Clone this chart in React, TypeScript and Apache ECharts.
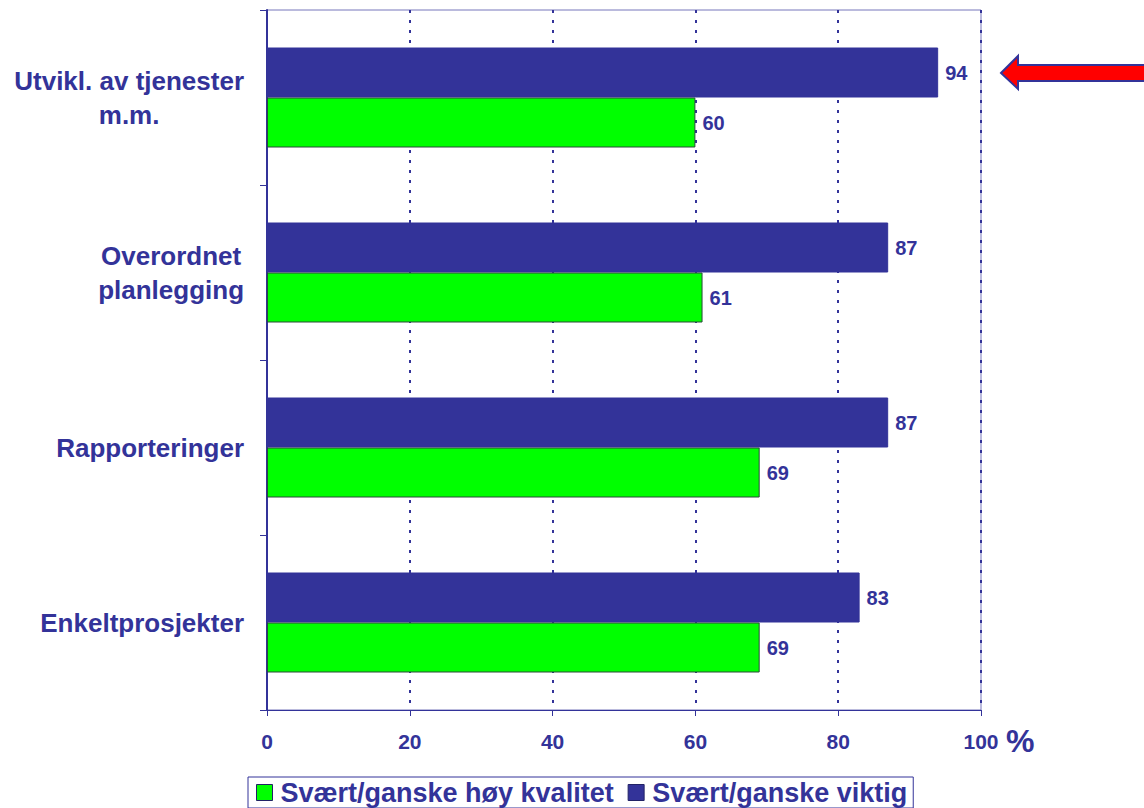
import React, { useEffect, useRef } from "react";
import * as echarts from "echarts";

const categories = ["Utvikl. av tjenester\nm.m.", "Overordnet\nplanlegging", "Rapporteringer", "Enkeltprosjekter"];
const viktig = [94, 87, 87, 83];
const kvalitet = [60, 61, 69, 69];
const xTicks = [0, 20, 40, 60, 80, 100];
const seriesNames = ["Svært/ganske høy kvalitet", "Svært/ganske viktig"];

const NAVY = "#333399";
const GREEN = "#00ff00";
const FONT = "Liberation Sans, Arial, sans-serif";

export default function App() {
  const ref = useRef<HTMLDivElement>(null);
  useEffect(() => {
    if (!ref.current) return;
    const chart = echarts.init(ref.current, undefined, { renderer: "svg" });
    const label = {
      show: true,
      position: "right",
      distance: 7,
      color: NAVY,
      fontFamily: FONT,
      fontWeight: "bold",
      fontSize: 20,
    };
    chart.setOption({
      animation: false,
      backgroundColor: "#ffffff",
      grid: {
        left: 267,
        right: 163,
        top: 10,
        bottom: 98,
        show: true,
        borderColor: "#7777bb",
        borderWidth: 1,
      },
      legend: {
        data: seriesNames,
        bottom: 0,
        left: 248,
        itemWidth: 16,
        itemHeight: 16,
        itemGap: 14,
        padding: [2, 6, 2, 8],
        borderColor: NAVY,
        borderWidth: 1,
        borderRadius: 0,
        icon: "rect",
        itemStyle: { borderColor: "#222266", borderWidth: 1 },
        textStyle: {
          color: NAVY,
          fontFamily: FONT,
          fontWeight: "bold",
          fontSize: 27,
          padding: [0, 0, 0, 3],
        },
      },
      xAxis: {
        type: "value",
        min: 0,
        max: 100,
        interval: 20,
        axisLine: { show: true, lineStyle: { color: NAVY, width: 1 } },
        axisTick: { show: true, length: 6, lineStyle: { color: NAVY } },
        axisLabel: {
          color: NAVY,
          fontFamily: FONT,
          fontWeight: "bold",
          fontSize: 21,
          margin: 21,
          formatter: (v: number) => (xTicks.includes(v) ? String(v) : ""),
        },
        splitLine: { show: true, lineStyle: { color: NAVY, type: [3, 7], width: 2 } },
      },
      yAxis: {
        type: "category",
        data: categories,
        inverse: true,
        axisLine: { show: true, lineStyle: { color: NAVY, width: 2 } },
        axisTick: { show: true, length: 7, lineStyle: { color: NAVY } },
        axisLabel: {
          margin: 23,
          align: "right",
          formatter: (v: string) => v.split("\n").map((s) => `{a|${s}}`).join("\n"),
          rich: {
            a: {
              align: "center",
              color: NAVY,
              fontFamily: FONT,
              fontWeight: "bold",
              fontSize: 26,
              lineHeight: 34,
            },
          },
        },
        splitLine: { show: false },
      },
      series: [
        {
          name: seriesNames[1],
          type: "bar",
          data: viktig,
          barWidth: 50,
          barGap: "0%",
          itemStyle: { color: NAVY, borderColor: NAVY, borderWidth: 1 },
          label,
        },
        {
          name: seriesNames[0],
          type: "bar",
          data: kvalitet,
          barWidth: 50,
          barGap: "0%",
          itemStyle: { color: GREEN, borderColor: "#2a4a3a", borderWidth: 1 },
          label,
        },
      ],
      graphic: [
        {
          type: "text",
          left: 1006,
          top: 725,
          style: { text: "%", fill: NAVY, font: `bold 32px ${FONT}` },
        },
        {
          type: "polygon",
          shape: {
            points: [
              [1001, 73],
              [1018, 56],
              [1018, 65],
              [1150, 65],
              [1150, 81],
              [1018, 81],
              [1018, 89],
            ],
          },
          style: { fill: "#ff0000", stroke: NAVY, lineWidth: 2 },
        },
      ],
    });
    return () => chart.dispose();
  }, []);
  return (
    <div
      ref={ref}
      style={{ position: "fixed", left: 0, top: 0, width: 1144, height: 808 }}
    />
  );
}
